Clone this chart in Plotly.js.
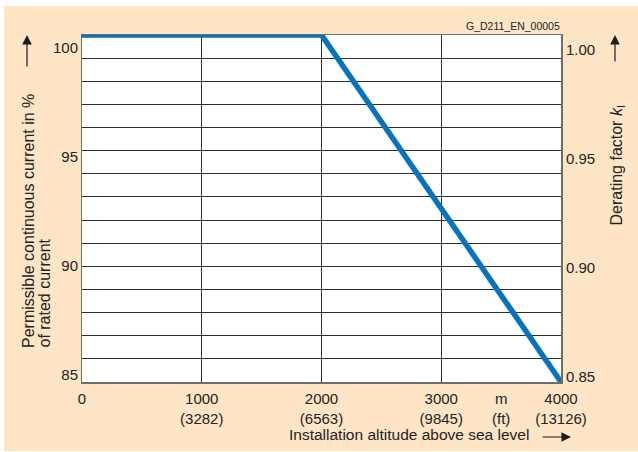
<!DOCTYPE html>
<html>
<head>
<meta charset="utf-8">
<script src="https://cdn.plot.ly/plotly-3.0.1.min.js"></script>
<style>
  html, body { margin: 0; padding: 0; background: #ffffff; width: 638px; height: 452px; overflow: hidden; }
  #chart { position: absolute; left: 4px; top: 6px; width: 634px; height: 445px; }
</style>
</head>
<body>
<div id="chart"></div>
<script>
// ---- data ----
const altitudeM = [0, 2000, 4000];
const currentPct = [100, 100, 85];
const deratingK = [1.00, 1.00, 0.85];

const xGridVals = [0, 1000, 2000, 3000, 4000];
const xTickVals = [0, 1000, 2000, 3000, 3500, 4000];
const xTickText = ['0', '1000<br>(3282)', '2000<br>(6563)', '3000<br>(9845)', 'm<br>(ft)', '4000<br>(13126)'];
const pctTicks = [85, 90, 95, 100];
const kTicks = [0.85, 0.90, 0.95, 1.00];
const kTickText = ['0.85', '0.90', '0.95', '1.00'];

const textColor = '#262324';
const gridColor = '#2e2e2e';
const borderColor = '#6e6e6e';
const font = 'Liberation Sans, Arial, Helvetica, sans-serif';

const traces = [
  { x: altitudeM, y: currentPct, xaxis: 'x', yaxis: 'y', mode: 'lines',
    line: { color: '#0873bd', width: 5.5 }, cliponaxis: false, hoverinfo: 'skip', showlegend: false },
  { x: altitudeM, y: deratingK, xaxis: 'x', yaxis: 'y2', mode: 'lines',
    line: { color: 'rgba(0,0,0,0)', width: 0 }, hoverinfo: 'skip', showlegend: false },
  { x: altitudeM, y: currentPct, xaxis: 'x', yaxis: 'y3', mode: 'lines',
    line: { color: 'rgba(0,0,0,0)', width: 0 }, hoverinfo: 'skip', showlegend: false },
  { x: altitudeM, y: currentPct, xaxis: 'x2', yaxis: 'y', mode: 'lines',
    line: { color: 'rgba(0,0,0,0)', width: 0 }, hoverinfo: 'skip', showlegend: false }
];

const layout = {
  width: 634, height: 445,
  margin: { l: 78, r: 77, t: 29, b: 69 },
  paper_bgcolor: '#fde5c6',
  plot_bgcolor: '#ffffff',
  font: { family: font, size: 15, color: textColor },
  showlegend: false,
  xaxis: {
    range: [0, 4000], tickmode: 'array', tickvals: xGridVals, showticklabels: false,
    showgrid: true, gridcolor: gridColor, gridwidth: 1, zeroline: false,
    showline: true, mirror: true, linecolor: borderColor, linewidth: 1.5, ticks: ''
  },
  xaxis2: {
    overlaying: 'x', anchor: 'y', side: 'bottom', range: [0, 4000],
    tickmode: 'array', tickvals: xTickVals, ticktext: xTickText,
    showgrid: false, zeroline: false, showline: false, ticks: '',
    ticklabelstandoff: 6, tickfont: { size: 15, color: textColor }
  },
  yaxis: {
    range: [85, 100], dtick: 1, tick0: 85, showticklabels: false,
    showgrid: true, gridcolor: gridColor, gridwidth: 1, zeroline: false,
    showline: true, mirror: true, linecolor: borderColor, linewidth: 1.5, ticks: ''
  },
  yaxis3: {
    overlaying: 'y', side: 'left', anchor: 'x', range: [84.679, 100.596],
    tickmode: 'array', tickvals: pctTicks, showgrid: false, zeroline: false,
    showline: false, ticks: '', ticklabelstandoff: 3, tickfont: { size: 15, color: textColor }
  },
  yaxis2: {
    overlaying: 'y', side: 'right', anchor: 'x', range: [0.8477, 1.0069],
    tickmode: 'array', tickvals: kTicks, ticktext: kTickText, showgrid: false, zeroline: false,
    showline: false, ticks: '', ticklabelstandoff: 4, tickfont: { size: 15, color: textColor }
  },
  annotations: [
    { text: 'Permissible continuous current in %', xref: 'paper', yref: 'paper',
      x: -0.1127, y: 0.0922, xanchor: 'center', yanchor: 'bottom', textangle: -90,
      showarrow: false, font: { size: 16, color: textColor } },
    { text: 'of rated current', xref: 'paper', yref: 'paper',
      x: -0.0793, y: 0.0922, xanchor: 'center', yanchor: 'bottom', textangle: -90,
      showarrow: false, font: { size: 16, color: textColor } },
    { text: 'Derating factor <i>k</i><sub>I</sub>', xref: 'paper', yref: 'paper',
      x: 1.1169, y: 0.4467, xanchor: 'center', yanchor: 'bottom', textangle: -90,
      showarrow: false, font: { size: 16, color: textColor } },
    { text: 'Installation altitude above sea level', xref: 'paper', yref: 'paper',
      x: 0.6827, y: -0.1527, xanchor: 'center', yanchor: 'middle',
      showarrow: false, font: { size: 15.5, color: textColor } },
    { text: 'G_D211_EN_00005', xref: 'paper', yref: 'paper',
      x: 1.002, y: 1.0259, xanchor: 'right', yanchor: 'middle',
      showarrow: false, font: { size: 10.5, color: textColor } },
    { text: '', xref: 'paper', yref: 'paper', x: -0.1148, y: 1.0, ax: 0, ay: 33,
      showarrow: true, arrowhead: 2, arrowsize: 1.6, arrowwidth: 1.2, arrowcolor: '#1e1e1e', standoff: 0 },
    { text: '', xref: 'paper', yref: 'paper', x: 1.1127, y: 1.0, ax: 0, ay: 28,
      showarrow: true, arrowhead: 2, arrowsize: 1.6, arrowwidth: 1.2, arrowcolor: '#1e1e1e', standoff: 0 },
    { text: '', xref: 'paper', yref: 'paper', x: 1.0209, y: -0.1585, ax: -30, ay: 0,
      showarrow: true, arrowhead: 2, arrowsize: 1.6, arrowwidth: 1.2, arrowcolor: '#1e1e1e', standoff: 0 }
  ]
};

Plotly.newPlot('chart', traces, layout, { displayModeBar: false, staticPlot: true });
</script>
</body>
</html>
